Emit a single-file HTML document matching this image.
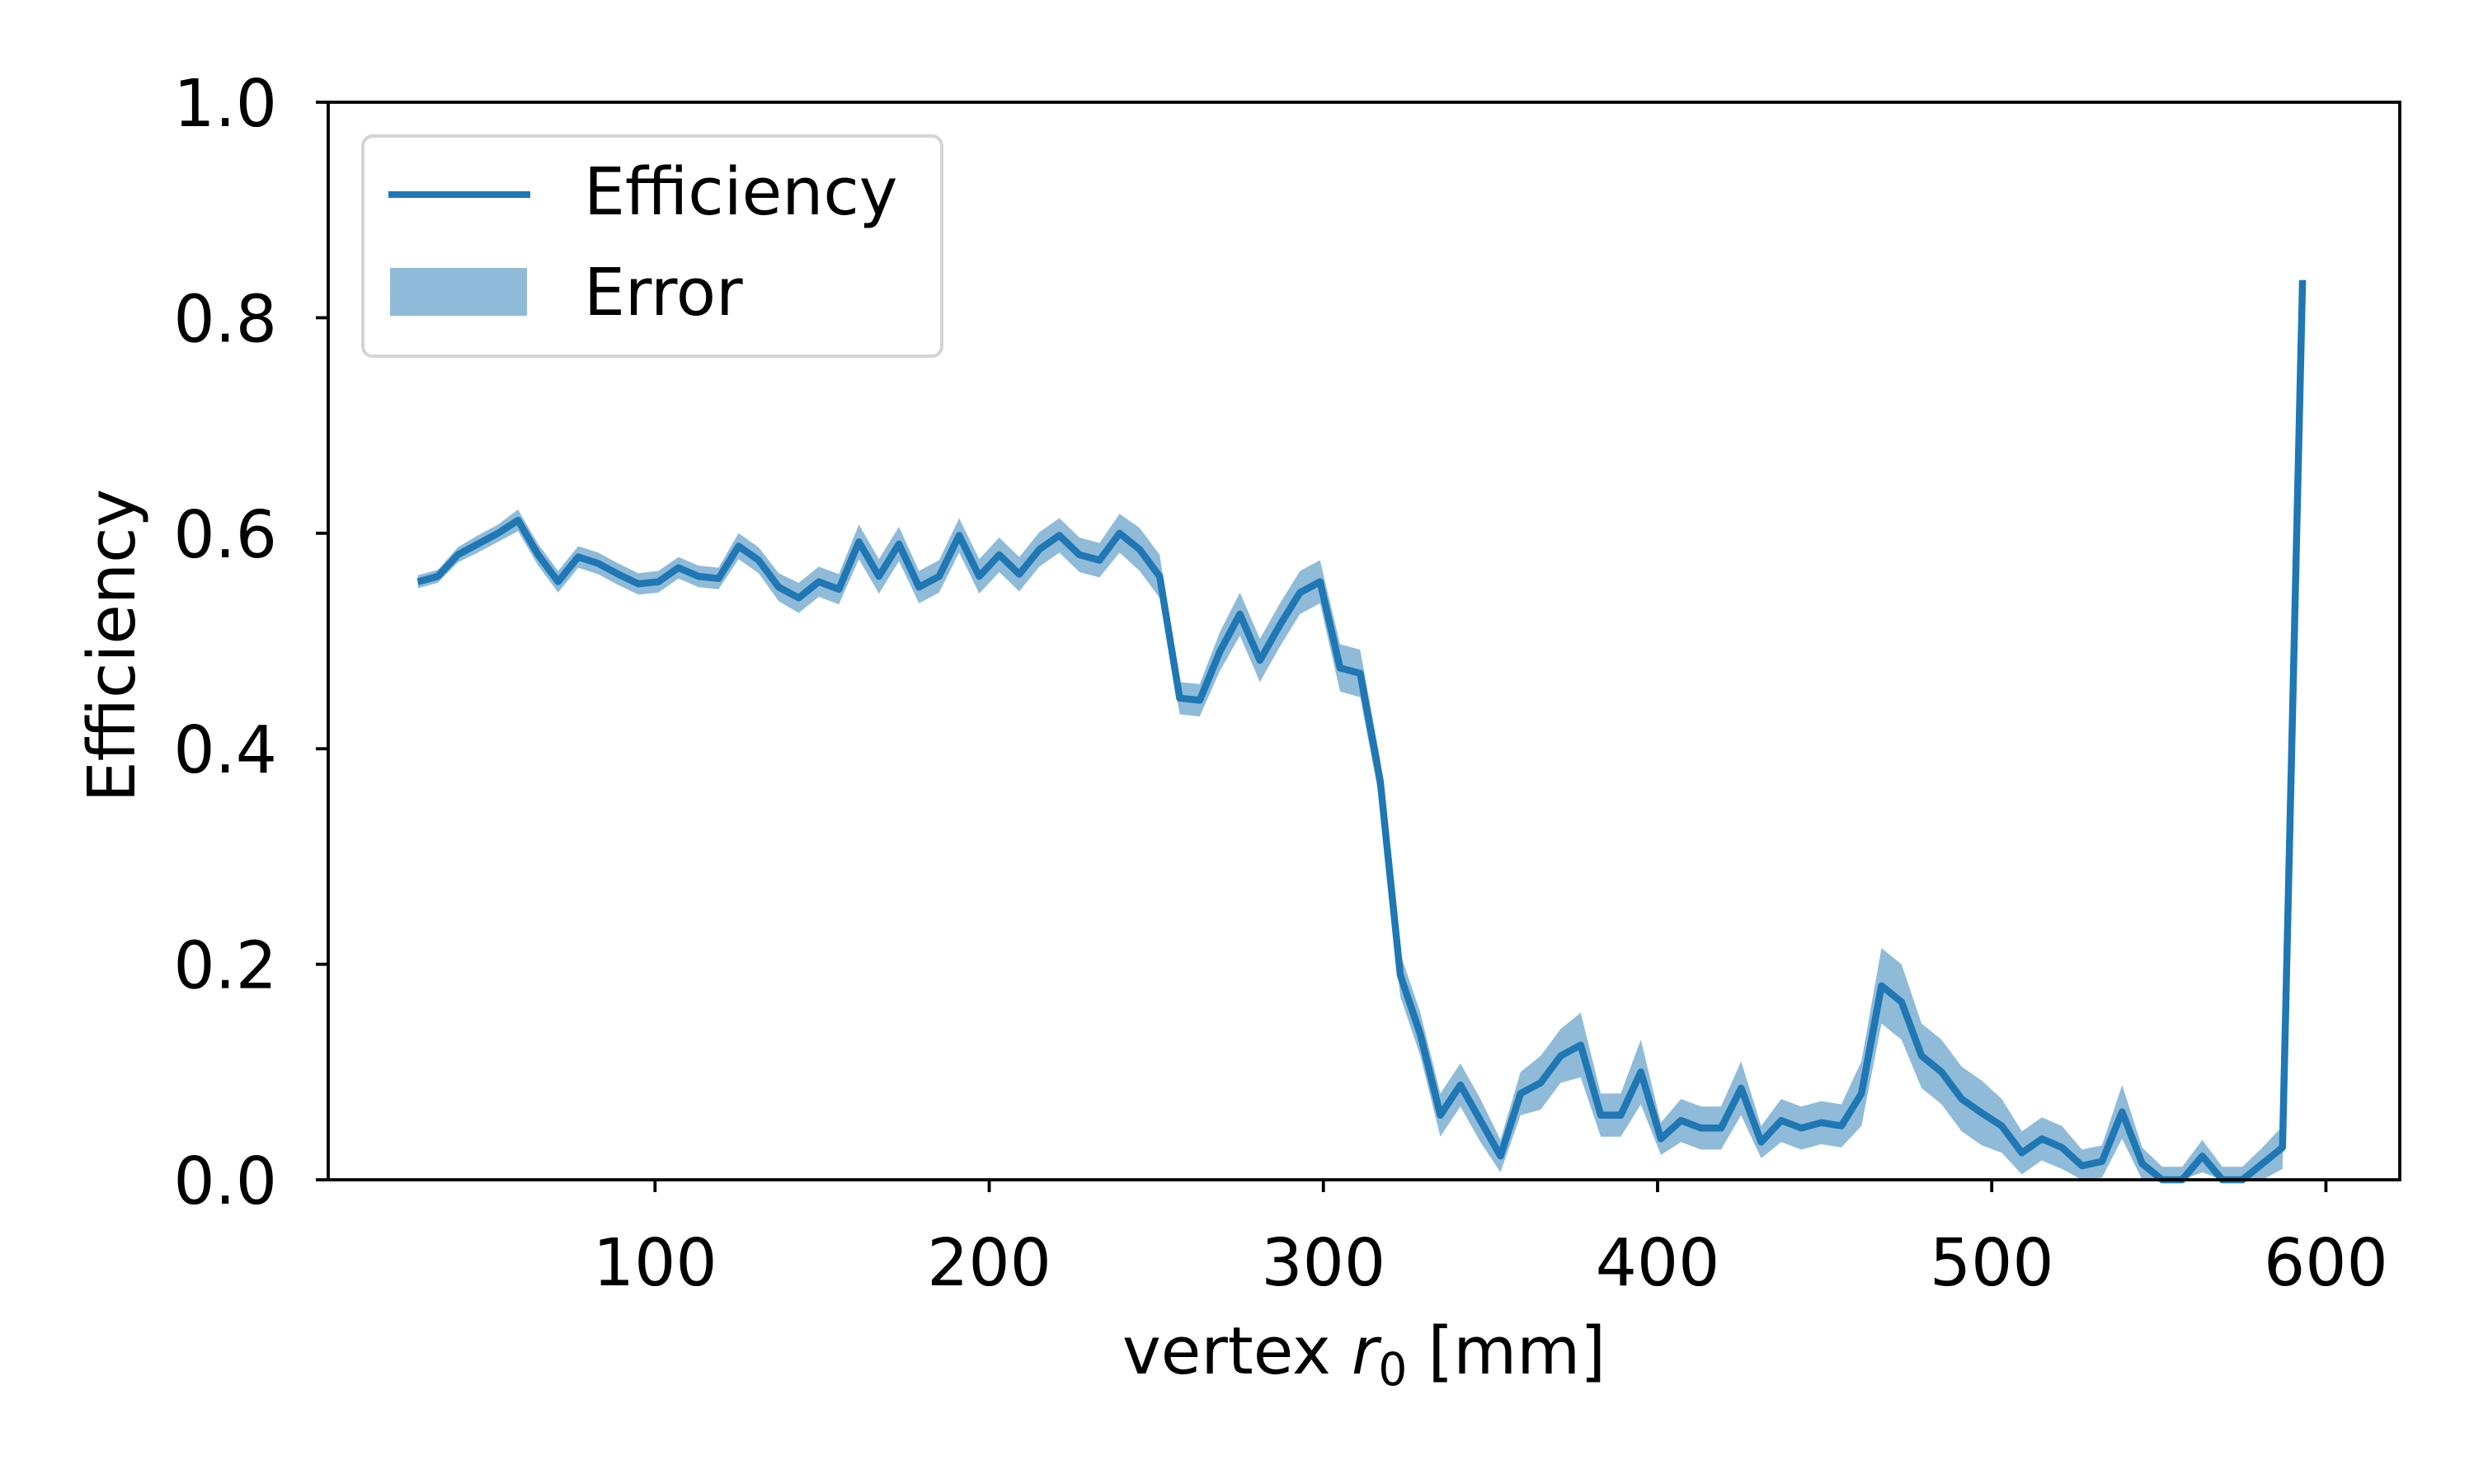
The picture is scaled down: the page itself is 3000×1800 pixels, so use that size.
<!DOCTYPE html>
<html><head><meta charset="utf-8"><style>
html,body{margin:0;padding:0;background:#fff;}
svg{display:block;font-family:"DejaVu Sans","Liberation Sans",sans-serif;}
</style></head><body>
<svg id="chart" width="3000" height="1800" viewBox="0 0 3000 1800">
<g id="band"></g>
<g id="line"></g>
<g id="axes"></g>
<g id="legend">
  <rect x="440" y="165" width="702" height="267" rx="12" fill="#fff" fill-opacity="0.8" stroke="#d4d4d4" stroke-width="4"/>
  <line x1="471" y1="236" x2="643" y2="236" stroke="#1f77b4" stroke-width="8"/>
  <text x="708" y="260" font-size="79" fill="#000">Efficiency</text>
  <rect x="473" y="325" width="166" height="58" fill="#1f77b4" fill-opacity="0.5"/>
  <text x="708" y="382" font-size="79" fill="#000">Error</text>
</g>
</svg>
<script>
const xVals = [29,35,41,47,53,59,65,71,77,83,89,95,101,107,113,119,125,131,137,143,149,155,161,167,173,179,185,191,197,203,209,215,221,227,233,239,245,251,257,263,269,275,281,287,293,299,305,311,317,323,329,335,341,347,353,359,365,371,377,383,389,395,401,407,413,419,425,431,437,443,449,455,461,467,473,479,485,491,497,503,509,515,521,527,533,539,545,551,557,563,569,575,581,587,593];
const effVals = [0.555,0.56,0.58,0.59,0.60,0.612,0.58,0.555,0.578,0.572,0.562,0.553,0.555,0.568,0.56,0.558,0.588,0.575,0.55,0.54,0.555,0.548,0.592,0.56,0.59,0.55,0.56,0.598,0.56,0.58,0.562,0.585,0.598,0.58,0.575,0.6,0.585,0.56,0.447,0.445,0.49,0.525,0.482,0.515,0.545,0.555,0.475,0.47,0.37,0.19,0.135,0.06,0.088,0.055,0.022,0.08,0.09,0.115,0.125,0.06,0.06,0.1,0.038,0.055,0.048,0.048,0.085,0.035,0.055,0.048,0.053,0.05,0.08,0.18,0.165,0.115,0.1,0.075,0.062,0.05,0.025,0.038,0.03,0.013,0.017,0.063,0.015,0.0,0.0,0.022,0.0,0.0,0.015,0.03,0.835];
const errVals = [0.006,0.006,0.007,0.008,0.008,0.01,0.01,0.01,0.01,0.01,0.01,0.01,0.01,0.01,0.01,0.01,0.012,0.012,0.013,0.014,0.014,0.014,0.016,0.016,0.016,0.015,0.015,0.016,0.016,0.016,0.016,0.016,0.016,0.016,0.016,0.018,0.02,0.02,0.015,0.015,0.018,0.02,0.02,0.02,0.02,0.02,0.022,0.022,0.02,0.02,0.02,0.02,0.02,0.02,0.015,0.02,0.025,0.025,0.03,0.02,0.02,0.03,0.015,0.02,0.02,0.02,0.025,0.015,0.02,0.02,0.02,0.02,0.03,0.035,0.035,0.03,0.03,0.03,0.03,0.025,0.02,0.02,0.02,0.015,0.015,0.025,0.015,0.012,0.012,0.015,0.012,0.012,0.015,0.02,0.0];
const xTicks = [100,200,300,400,500,600];
const yTicks = [0.0,0.2,0.4,0.6,0.8,1.0];
const yTickLabels = ["0.0","0.2","0.4","0.6","0.8","1.0"];

const L=398,R=2910,T=124,B=1431;
const XMIN=2.2, XMAX=622.1;
function sx(v){return L+(v-XMIN)/(XMAX-XMIN)*(R-L);}
function sy(v){return B-(v-0)/(1-0)*(B-T);}
const NS="http://www.w3.org/2000/svg";
function mk(tag,parent){const e=document.createElementNS(NS,tag);parent.appendChild(e);return e;}

const band=document.getElementById('band');
const upperPts=[], lowerPts=[];
for(let i=0;i<xVals.length;i++){
  upperPts.push(sx(xVals[i]).toFixed(1)+','+sy(effVals[i]+errVals[i]).toFixed(1));
  lowerPts.unshift(sx(xVals[i]).toFixed(1)+','+sy(Math.max(0,effVals[i]-errVals[i])).toFixed(1));
}
const poly=mk('polygon',band);
poly.setAttribute('points',upperPts.concat(lowerPts).join(' '));
poly.setAttribute('fill','#1f77b4');poly.setAttribute('fill-opacity','0.5');



const lg=document.getElementById('line');
const pl=mk('polyline',lg);
pl.setAttribute('points',xVals.map((x,i)=>sx(x).toFixed(1)+','+sy(effVals[i]).toFixed(1)).join(' '));
pl.setAttribute('fill','none');pl.setAttribute('stroke','#1f77b4');pl.setAttribute('stroke-width','8.5');
pl.setAttribute('stroke-linejoin','round');



const ax=document.getElementById('axes');
const fr=mk('rect',ax);
fr.setAttribute('x',L);fr.setAttribute('y',T);fr.setAttribute('width',R-L);fr.setAttribute('height',B-T);
fr.setAttribute('fill','none');fr.setAttribute('stroke','#000');fr.setAttribute('stroke-width','3.8');


xTicks.forEach(v=>{
  const t=mk('line',ax);const x=sx(v);
  t.setAttribute('x1',x);t.setAttribute('x2',x);t.setAttribute('y1',B);t.setAttribute('y2',B+15);
  t.setAttribute('stroke','#000');t.setAttribute('stroke-width','3.8');
  
  
  const tx=mk('text',ax);tx.textContent=String(v);
  tx.setAttribute('x',x);tx.setAttribute('y',1559);tx.setAttribute('font-size','79');tx.setAttribute('text-anchor','middle');
  
  
});
yTicks.forEach((v,i)=>{
  const t=mk('line',ax);const y=sy(v);
  t.setAttribute('x1',L-15);t.setAttribute('x2',L);t.setAttribute('y1',y);t.setAttribute('y2',y);
  t.setAttribute('stroke','#000');t.setAttribute('stroke-width','3.8');
  
  
  const tx=mk('text',ax);tx.textContent=yTickLabels[i];
  tx.setAttribute('x',L-62);tx.setAttribute('y',y+29);tx.setAttribute('font-size','79');tx.setAttribute('text-anchor','end');
  
  
});
const xl=mk('text',ax);
xl.setAttribute('x',1654);xl.setAttribute('y',1666);xl.setAttribute('font-size','79');xl.setAttribute('text-anchor','middle');
xl.innerHTML='vertex <tspan font-style="italic">r</tspan><tspan font-size="55" dy="14">0</tspan><tspan dy="-14"> [mm]</tspan>';


const yl=mk('text',ax);
yl.setAttribute('x',0);yl.setAttribute('y',0);yl.setAttribute('font-size','79');yl.setAttribute('text-anchor','middle');
yl.setAttribute('transform','translate(163,783) rotate(-90)');
yl.textContent='Efficiency';


</script>
</body></html>
